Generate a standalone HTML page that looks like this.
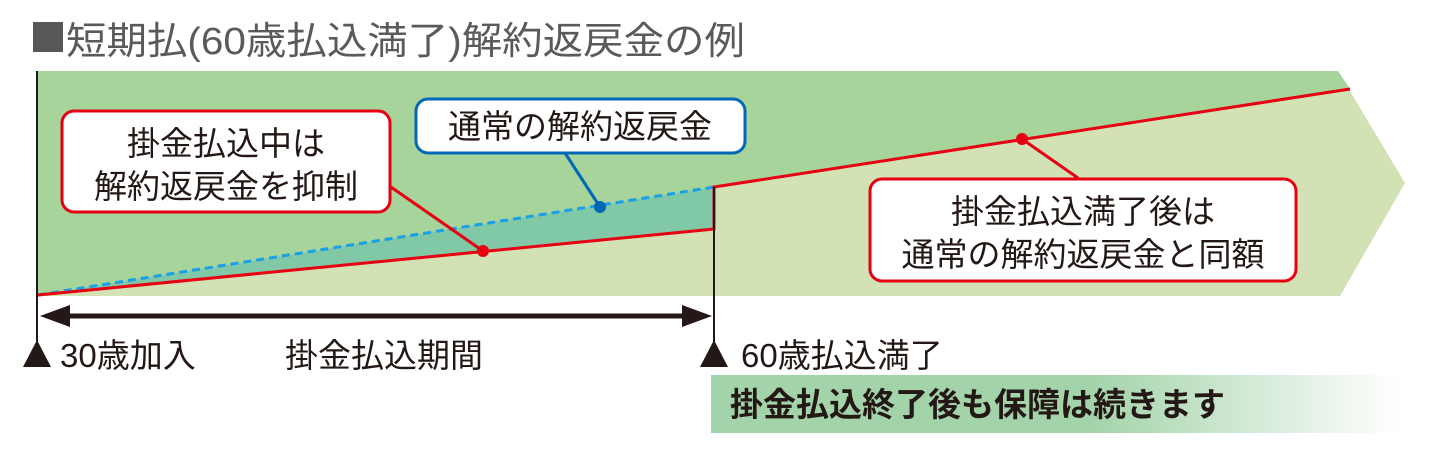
<!DOCTYPE html>
<html><head><meta charset="utf-8"><style>
html,body{margin:0;padding:0;background:#fff;width:1431px;height:450px;overflow:hidden}
svg text{font-family:"Liberation Sans","Noto Sans CJK JP",sans-serif}
</style></head><body>
<svg width="1431" height="450" viewBox="0 0 1431 450" xmlns="http://www.w3.org/2000/svg">
<defs>
<linearGradient id="g" x1="0" x2="1" y1="0" y2="0">
<stop offset="0" stop-color="#a3d3a9"/><stop offset="0.55" stop-color="#a3d3a9"/><stop offset="1" stop-color="#ffffff"/>
</linearGradient>
</defs>
<rect x="33" y="22" width="30" height="30" fill="#595757"/>
<text x="66" y="54" font-size="38" fill="#5a5a5a" textLength="679" lengthAdjust="spacingAndGlyphs">短期払(60歳払込満了)解約返戻金の例</text>
<polygon points="38,71 1338,71 1405,183 1340,296 38,296" fill="#d2e2b4"/>
<polygon points="38,71 1338,71 1350,89 714,187 38,295" fill="#a6d49b"/>
<polygon points="38,295 714,187 714,229" fill="#80c8a6"/>
<line x1="38" y1="295" x2="714" y2="187" stroke="#1aa0e6" stroke-width="3" stroke-dasharray="8,5"/>
<polyline points="38,295 714,229 714,187 1350,89" fill="none" stroke="#e60012" stroke-width="3"/>
<line x1="388" y1="185" x2="483" y2="251" stroke="#e60012" stroke-width="3"/>
<line x1="565" y1="153" x2="600" y2="207" stroke="#0068b7" stroke-width="3"/>
<line x1="1022" y1="139" x2="1078" y2="178" stroke="#e60012" stroke-width="3"/>
<circle cx="483" cy="251" r="6" fill="#e60012"/>
<circle cx="600" cy="207" r="6" fill="#0068b7"/>
<circle cx="1022" cy="139" r="6" fill="#e60012"/>
<rect x="62" y="111" width="328" height="101" rx="12" fill="#fff" stroke="#e60012" stroke-width="3"/>
<text x="226" y="155" font-size="33" fill="#231815" text-anchor="middle">掛金払込中は</text>
<text x="226" y="198" font-size="33" fill="#231815" text-anchor="middle">解約返戻金を抑制</text>
<rect x="416" y="99" width="329" height="54" rx="12" fill="#fff" stroke="#0068b7" stroke-width="3"/>
<text x="580" y="138" font-size="33" fill="#231815" text-anchor="middle">通常の解約返戻金</text>
<rect x="870" y="179" width="426" height="102" rx="12" fill="#fff" stroke="#e60012" stroke-width="3"/>
<text x="1083" y="223" font-size="33" fill="#231815" text-anchor="middle">掛金払込満了後は</text>
<text x="1083" y="266" font-size="33" fill="#231815" text-anchor="middle">通常の解約返戻金と同額</text>
<line x1="37" y1="71" x2="37" y2="350" stroke="#231815" stroke-width="2"/>
<line x1="714" y1="187" x2="714" y2="348" stroke="#231815" stroke-width="2"/>
<line x1="60" y1="316" x2="690" y2="316" stroke="#231815" stroke-width="5"/>
<polygon points="40,316 70,305 70,327" fill="#231815"/>
<polygon points="712,316 682,305 682,327" fill="#231815"/>
<polygon points="37,340 23,367 51,367" fill="#231815"/>
<polygon points="714,340 700,367 728,367" fill="#231815"/>
<text x="60" y="367" font-size="33" fill="#231815">30歳加入</text>
<text x="285" y="367" font-size="33" fill="#231815">掛金払込期間</text>
<text x="741" y="367" font-size="33" fill="#231815">60歳払込満了</text>
<rect x="711" y="375" width="689" height="58" fill="url(#g)"/>
<text x="730" y="416" font-size="33" font-weight="bold" fill="#231815">掛金払込終了後も保障は続きます</text>
</svg>
</body></html>
